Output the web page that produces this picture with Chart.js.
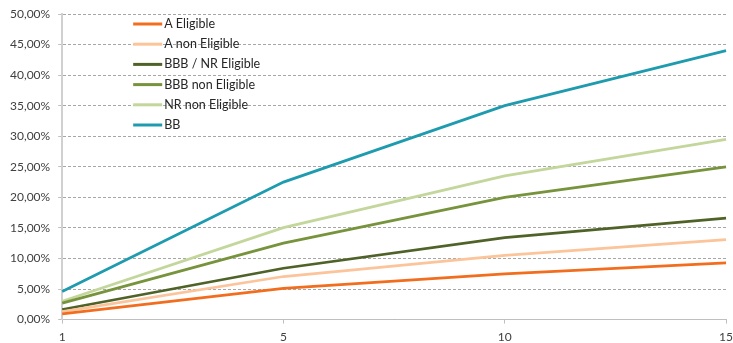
<!DOCTYPE html>
<html>
<head>
<meta charset="utf-8">
<script src="https://cdn.jsdelivr.net/npm/chart.js@4"></script>
<style>
  html, body { margin: 0; padding: 0; background: #fff; }
  #wrap { width: 733px; height: 343px; }
</style>
</head>
<body>
<div id="wrap"><canvas id="chart"></canvas></div>
<script>
const maturities = ["1", "5", "10", "15"];

const seriesNames = ["A Eligible", "A non Eligible", "BBB / NR Eligible", "BBB non Eligible", "NR non Eligible", "BB"];
const seriesColors = ["#F26D1E", "#FBC49A", "#4F6228", "#77933C", "#C3D69B", "#1E9BAE"];

const aEligible = [0.95, 5.1, 7.5, 9.3];
const aNonEligible = [1.3, 7.05, 10.5, 13.1];
const bbbNrEligible = [1.65, 8.4, 13.4, 16.6];
const bbbNonEligible = [2.7, 12.5, 20.0, 25.0];
const nrNonEligible = [3.0, 15.05, 23.5, 29.5];
const bb = [4.6, 22.5, 35.0, 44.0];

const seriesValues = [aEligible, aNonEligible, bbbNrEligible, bbbNonEligible, nrNonEligible, bb];

const yMin = 0, yMax = 50, yStep = 5;

const FONT = "Lato, 'Noto Sans', sans-serif";

// legend drawn inside the plot area, top-left
const insideLegend = {
  id: "insideLegend",
  afterDraw(chart) {
    const ctx = chart.ctx;
    const area = chart.chartArea;
    const x0 = area.left + 71;
    let y = area.top + 10;
    ctx.save();
    ctx.font = "12.5px " + FONT;
    ctx.textBaseline = "middle";
    ctx.fillStyle = "#262626";
    chart.data.datasets.forEach(ds => {
      ctx.strokeStyle = ds.borderColor;
      ctx.lineWidth = 3;
      ctx.beginPath();
      ctx.moveTo(x0, y);
      ctx.lineTo(x0 + 29, y);
      ctx.stroke();
      ctx.fillText(ds.label, x0 + 31, y);
      y += 20.2;
    });
    ctx.restore();
  }
};

new Chart(document.getElementById("chart"), {
  type: "line",
  data: {
    labels: maturities,
    datasets: seriesNames.map((name, i) => ({
      label: name,
      data: seriesValues[i],
      borderColor: seriesColors[i],
      backgroundColor: seriesColors[i],
      borderWidth: 2.75,
      pointRadius: 0,
      tension: 0,
      fill: false
    }))
  },
  options: {
    responsive: true,
    maintainAspectRatio: false,
    animation: false,
    layout: { padding: { top: 0, left: 2, right: 0, bottom: -7 } },
    plugins: {
      legend: { display: false },
      tooltip: { enabled: false }
    },
    scales: {
      x: {
        offset: false,
        grid: {
          display: true,
          drawOnChartArea: false,
          drawTicks: true,
          tickLength: 4,
          color: "#BFBFBF"
        },
        border: { color: "#BFBFBF", width: 1 },
        ticks: {
          color: "#404040",
          font: { family: FONT, size: 12, lineHeight: 2.2 },
          padding: 0,
          maxRotation: 0
        }
      },
      y: {
        min: yMin,
        max: yMax,
        grid: {
          color: "#A6A6A6",
          tickLength: 4,
          tickColor: "#BFBFBF"
        },
        border: { color: "#D0D0D0", width: 2, dash: [3, 2] },
        ticks: {
          stepSize: yStep,
          color: "#404040",
          font: { family: FONT, size: 12, lineHeight: 1 },
          padding: 8,
          callback: v => v.toFixed(2).replace(".", ",") + "%"
        }
      }
    }
  },
  plugins: [insideLegend]
});
</script>
</body>
</html>
